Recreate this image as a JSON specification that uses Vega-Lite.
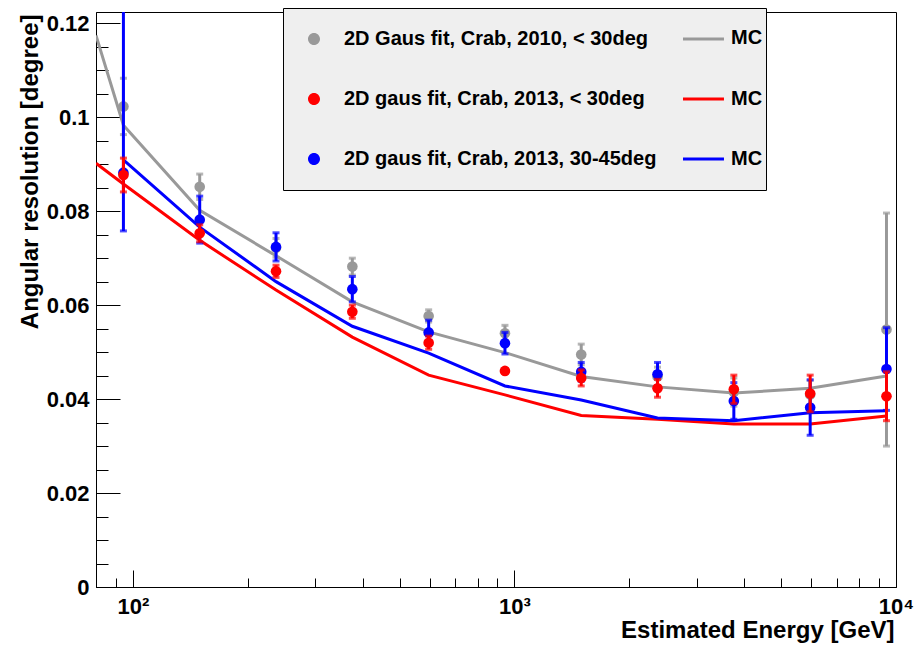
{
  "$schema": "https://vega.github.io/schema/vega-lite/v6.json",
  "width": 800,
  "height": 575,
  "autosize": {"type": "none"},
  "padding": {"left": 96, "top": 12, "right": 18, "bottom": 60},
  "background": "white",
  "config": {
    "view": {"stroke": "black", "strokeWidth": 1, "fill": "white"},
    "font": "Liberation Sans"
  },
  "datasets": {
    "pts": [
      {"series": "2D Gaus fit, Crab, 2010, < 30deg", "E": 94.4, "res": 0.1023, "lo": 0.0963, "hi": 0.1083},
      {"series": "2D Gaus fit, Crab, 2010, < 30deg", "E": 149.6, "res": 0.0852, "lo": 0.0825, "hi": 0.0879},
      {"series": "2D Gaus fit, Crab, 2010, < 30deg", "E": 237.1, "res": 0.0722, "lo": 0.0702, "hi": 0.0742},
      {"series": "2D Gaus fit, Crab, 2010, < 30deg", "E": 375.8, "res": 0.0682, "lo": 0.0664, "hi": 0.0700},
      {"series": "2D Gaus fit, Crab, 2010, < 30deg", "E": 595.7, "res": 0.0577, "lo": 0.0564, "hi": 0.0590},
      {"series": "2D Gaus fit, Crab, 2010, < 30deg", "E": 944.1, "res": 0.0540, "lo": 0.0523, "hi": 0.0557},
      {"series": "2D Gaus fit, Crab, 2010, < 30deg", "E": 1496, "res": 0.0495, "lo": 0.0473, "hi": 0.0517},
      {"series": "2D Gaus fit, Crab, 2010, < 30deg", "E": 2371, "res": 0.0448, "lo": 0.0428, "hi": 0.0468},
      {"series": "2D Gaus fit, Crab, 2010, < 30deg", "E": 3758, "res": 0.0415, "lo": 0.0385, "hi": 0.0445},
      {"series": "2D Gaus fit, Crab, 2010, < 30deg", "E": 5957, "res": 0.0410, "lo": 0.0380, "hi": 0.0440},
      {"series": "2D Gaus fit, Crab, 2010, < 30deg", "E": 9441, "res": 0.0548, "lo": 0.0300, "hi": 0.0796},
      {"series": "2D gaus fit, Crab, 2013, 30-45deg", "E": 94.4, "res": 0.0882, "lo": 0.0758, "hi": 0.14},
      {"series": "2D gaus fit, Crab, 2013, 30-45deg", "E": 149.6, "res": 0.0782, "lo": 0.0732, "hi": 0.0832},
      {"series": "2D gaus fit, Crab, 2013, 30-45deg", "E": 237.1, "res": 0.0724, "lo": 0.0694, "hi": 0.0754},
      {"series": "2D gaus fit, Crab, 2013, 30-45deg", "E": 375.8, "res": 0.0634, "lo": 0.0607, "hi": 0.0661},
      {"series": "2D gaus fit, Crab, 2013, 30-45deg", "E": 595.7, "res": 0.0542, "lo": 0.0516, "hi": 0.0568},
      {"series": "2D gaus fit, Crab, 2013, 30-45deg", "E": 944.1, "res": 0.0519, "lo": 0.0496, "hi": 0.0542},
      {"series": "2D gaus fit, Crab, 2013, 30-45deg", "E": 1496, "res": 0.0458, "lo": 0.0438, "hi": 0.0478},
      {"series": "2D gaus fit, Crab, 2013, 30-45deg", "E": 2371, "res": 0.0453, "lo": 0.0428, "hi": 0.0478},
      {"series": "2D gaus fit, Crab, 2013, 30-45deg", "E": 3758, "res": 0.0396, "lo": 0.0357, "hi": 0.0435},
      {"series": "2D gaus fit, Crab, 2013, 30-45deg", "E": 5957, "res": 0.0382, "lo": 0.0323, "hi": 0.0441},
      {"series": "2D gaus fit, Crab, 2013, 30-45deg", "E": 9441, "res": 0.0464, "lo": 0.0376, "hi": 0.0552},
      {"series": "2D gaus fit, Crab, 2013, < 30deg", "E": 94.4, "res": 0.0877, "lo": 0.0841, "hi": 0.0913},
      {"series": "2D gaus fit, Crab, 2013, < 30deg", "E": 149.6, "res": 0.0753, "lo": 0.0735, "hi": 0.0771},
      {"series": "2D gaus fit, Crab, 2013, < 30deg", "E": 237.1, "res": 0.0672, "lo": 0.0659, "hi": 0.0685},
      {"series": "2D gaus fit, Crab, 2013, < 30deg", "E": 375.8, "res": 0.0586, "lo": 0.0572, "hi": 0.0600},
      {"series": "2D gaus fit, Crab, 2013, < 30deg", "E": 595.7, "res": 0.0520, "lo": 0.0506, "hi": 0.0534},
      {"series": "2D gaus fit, Crab, 2013, < 30deg", "E": 944.1, "res": 0.0460, "lo": 0.0456, "hi": 0.0464},
      {"series": "2D gaus fit, Crab, 2013, < 30deg", "E": 1496, "res": 0.0445, "lo": 0.0428, "hi": 0.0462},
      {"series": "2D gaus fit, Crab, 2013, < 30deg", "E": 2371, "res": 0.0423, "lo": 0.0404, "hi": 0.0442},
      {"series": "2D gaus fit, Crab, 2013, < 30deg", "E": 3758, "res": 0.0421, "lo": 0.0391, "hi": 0.0451},
      {"series": "2D gaus fit, Crab, 2013, < 30deg", "E": 5957, "res": 0.0412, "lo": 0.0373, "hi": 0.0451},
      {"series": "2D gaus fit, Crab, 2013, < 30deg", "E": 9441, "res": 0.0406, "lo": 0.0354, "hi": 0.0458}
    ],
    "mc": [
      {"mc": "MC gray", "E": 80, "res": 0.1174},
      {"mc": "MC gray", "E": 94.4, "res": 0.0983},
      {"mc": "MC gray", "E": 149.6, "res": 0.0802},
      {"mc": "MC gray", "E": 237.1, "res": 0.0705},
      {"mc": "MC gray", "E": 375.8, "res": 0.0607},
      {"mc": "MC gray", "E": 595.7, "res": 0.0543},
      {"mc": "MC gray", "E": 944.1, "res": 0.0499},
      {"mc": "MC gray", "E": 1496, "res": 0.0448},
      {"mc": "MC gray", "E": 2371, "res": 0.0426},
      {"mc": "MC gray", "E": 3758, "res": 0.0413},
      {"mc": "MC gray", "E": 5957, "res": 0.0423},
      {"mc": "MC gray", "E": 9441, "res": 0.0449},
      {"mc": "MC red", "E": 80, "res": 0.0902},
      {"mc": "MC red", "E": 94.4, "res": 0.0858},
      {"mc": "MC red", "E": 149.6, "res": 0.0738},
      {"mc": "MC red", "E": 237.1, "res": 0.0632},
      {"mc": "MC red", "E": 375.8, "res": 0.0532},
      {"mc": "MC red", "E": 595.7, "res": 0.0451},
      {"mc": "MC red", "E": 944.1, "res": 0.0409},
      {"mc": "MC red", "E": 1496, "res": 0.0365},
      {"mc": "MC red", "E": 2371, "res": 0.0357},
      {"mc": "MC red", "E": 3758, "res": 0.0347},
      {"mc": "MC red", "E": 5957, "res": 0.0347},
      {"mc": "MC red", "E": 9441, "res": 0.0364},
      {"mc": "MC blue", "E": 94.4, "res": 0.0909},
      {"mc": "MC blue", "E": 149.6, "res": 0.0766},
      {"mc": "MC blue", "E": 237.1, "res": 0.0650},
      {"mc": "MC blue", "E": 375.8, "res": 0.0555},
      {"mc": "MC blue", "E": 595.7, "res": 0.0498},
      {"mc": "MC blue", "E": 944.1, "res": 0.0428},
      {"mc": "MC blue", "E": 1496, "res": 0.0398},
      {"mc": "MC blue", "E": 2371, "res": 0.0360},
      {"mc": "MC blue", "E": 3758, "res": 0.0354},
      {"mc": "MC blue", "E": 5957, "res": 0.0371},
      {"mc": "MC blue", "E": 9441, "res": 0.0375}
    ]
  },
  "encoding": {
    "x": {
      "field": "E",
      "type": "quantitative",
      "scale": {"type": "log", "domain": [80, 10000], "nice": false},
      "axis": {
        "values": [80, 90, 100, 200, 300, 400, 500, 600, 700, 800, 900, 1000, 2000, 3000, 4000, 5000, 6000, 7000, 8000, 9000, 10000],
        "labelExpr": "datum.value == 100 ? '10²' : datum.value == 1000 ? '10³' : datum.value == 10000 ? '10⁴' : ''",
        "tickSize": {"condition": {"test": "datum.value == 100 || datum.value == 1000 || datum.value == 10000", "value": -17}, "value": -9},
        "tickColor": "black",
        "tickWidth": 1,
        "domainColor": "black",
        "domainWidth": 1,
        "grid": false,
        "labelFont": "Liberation Sans",
        "labelFontWeight": "bold",
        "labelFontSize": 22,
        "labelColor": "black",
        "labelPadding": 26,
        "labelFlush": false,
        "labelOverlap": false,
        "title": "Estimated Energy [GeV]",
        "titleFont": "Liberation Sans",
        "titleFontWeight": "bold",
        "titleFontSize": 24,
        "titleColor": "black",
        "titleAnchor": "end",
        "titleAlign": "right",
        "titleBaseline": "alphabetic",
        "titleX": 798,
        "titleY": 50
      }
    },
    "y": {
      "field": "res",
      "type": "quantitative",
      "scale": {"domain": [0, 0.1224], "nice": false, "zero": false},
      "axis": {
        "values": [0, 0.005, 0.01, 0.015, 0.02, 0.025, 0.03, 0.035, 0.04, 0.045, 0.05, 0.055, 0.06, 0.065, 0.07, 0.075, 0.08, 0.085, 0.09, 0.095, 0.1, 0.105, 0.11, 0.115, 0.12],
        "labelExpr": "abs(datum.value * 50 - round(datum.value * 50)) < 0.000001 ? format(datum.value, '~g') : ''",
        "tickSize": {"condition": {"test": "abs(datum.value * 50 - round(datum.value * 50)) < 0.000001", "value": -24}, "value": -12},
        "tickColor": "black",
        "tickWidth": 1,
        "domainColor": "black",
        "domainWidth": 1,
        "grid": false,
        "labelFont": "Liberation Sans",
        "labelFontWeight": "bold",
        "labelFontSize": 22,
        "labelColor": "black",
        "labelPadding": 31,
        "labelFlush": false,
        "labelOverlap": false,
        "labelBaseline": "middle",
        "title": "Angular resolution [degree]",
        "titleFont": "Liberation Sans",
        "titleFontWeight": "bold",
        "titleFontSize": 24,
        "titleColor": "black",
        "titleAnchor": "end",
        "titleAngle": -90,
        "titleAlign": "right",
        "titleBaseline": "alphabetic",
        "titleX": -59,
        "titleY": 2
      }
    }
  },
  "layer": [
    {
      "data": {"name": "mc"},
      "mark": {"type": "line", "strokeWidth": 3, "clip": true},
      "encoding": {
        "stroke": {
          "field": "mc",
          "type": "nominal",
          "scale": {"domain": ["MC gray", "MC red", "MC blue"], "range": ["#999999", "#ff0000", "#0000ff"]},
          "legend": {
            "orient": "none",
            "legendX": 584,
            "legendY": 4,
            "title": null,
            "symbolType": "stroke",
            "symbolSize": 1681,
            "symbolStrokeWidth": 3,
            "symbolOpacity": 0,
            "labelExpr": "'MC'",
            "labelFont": "Liberation Sans",
            "labelFontWeight": "bold",
            "labelFontSize": 20,
            "labelColor": "black",
            "labelOffset": 7,
            "rowPadding": 28.5,
            "padding": 0,
            "zindex": 2
          }
        }
      }
    },
    {
      "data": {"name": "pts"},
      "transform": [{"filter": "datum.series == '2D Gaus fit, Crab, 2010, < 30deg'"}],
      "mark": {"type": "errorbar", "thickness": 3, "ticks": {"size": 7, "thickness": 3}, "clip": true},
      "encoding": {
        "y": {"field": "lo", "type": "quantitative", "scale": {"domain": [0, 0.1224], "nice": false, "zero": false}},
        "y2": {"field": "hi"},
        "color": {"value": "#999999"}
      }
    },
    {
      "data": {"name": "pts"},
      "transform": [{"filter": "datum.series == '2D Gaus fit, Crab, 2010, < 30deg'"}],
      "mark": {"type": "point", "filled": true, "size": 113, "opacity": 1, "strokeWidth": 0, "clip": true},
      "encoding": {
        "fill": {"field": "series", "type": "nominal",
          "scale": {"domain": ["2D Gaus fit, Crab, 2010, < 30deg", "2D gaus fit, Crab, 2013, < 30deg", "2D gaus fit, Crab, 2013, 30-45deg"], "range": ["#999999", "#ff0000", "#0000ff"]},
          "legend": {
            "orient": "none",
            "legendX": 187,
            "legendY": -4,
            "title": null,
            "symbolType": "M-1,0A1,1 0 1,1 1,0A1,1 0 1,1 -1,0Z M61.5,-0.25H68.33V0.25H61.5Z M71.8,0",
            "symbolSize": 144,
            "symbolStrokeWidth": 0,
            "labelFont": "Liberation Sans",
            "labelFontWeight": "bold",
            "labelFontSize": 20,
            "labelColor": "black",
            "labelLimit": 800,
            "labelOffset": 20,
            "rowPadding": 40,
            "padding": 21,
            "fillColor": "#efefef",
            "strokeColor": "black",
            "symbolOffset": 0,
            "zindex": 1
          }
        }
      }
    },
    {
      "data": {"name": "pts"},
      "transform": [{"filter": "datum.series == '2D gaus fit, Crab, 2013, 30-45deg'"}],
      "mark": {"type": "errorbar", "thickness": 3, "ticks": {"size": 7, "thickness": 3}, "clip": true},
      "encoding": {
        "y": {"field": "lo", "type": "quantitative", "scale": {"domain": [0, 0.1224], "nice": false, "zero": false}},
        "y2": {"field": "hi"},
        "color": {"value": "#0000ff"}
      }
    },
    {
      "data": {"name": "pts"},
      "transform": [{"filter": "datum.series == '2D gaus fit, Crab, 2013, 30-45deg'"}],
      "mark": {"type": "point", "filled": true, "size": 113, "opacity": 1, "strokeWidth": 0, "clip": true},
      "encoding": {
        "fill": {"field": "series", "type": "nominal"}
      }
    },
    {
      "data": {"name": "pts"},
      "transform": [{"filter": "datum.series == '2D gaus fit, Crab, 2013, < 30deg'"}],
      "mark": {"type": "errorbar", "thickness": 3, "ticks": {"size": 7, "thickness": 3}, "clip": true},
      "encoding": {
        "y": {"field": "lo", "type": "quantitative", "scale": {"domain": [0, 0.1224], "nice": false, "zero": false}},
        "y2": {"field": "hi"},
        "color": {"value": "#ff0000"}
      }
    },
    {
      "data": {"name": "pts"},
      "transform": [{"filter": "datum.series == '2D gaus fit, Crab, 2013, < 30deg'"}],
      "mark": {"type": "point", "filled": true, "size": 113, "opacity": 1, "strokeWidth": 0, "clip": true},
      "encoding": {
        "fill": {"field": "series", "type": "nominal"}
      }
    }
  ]
}
